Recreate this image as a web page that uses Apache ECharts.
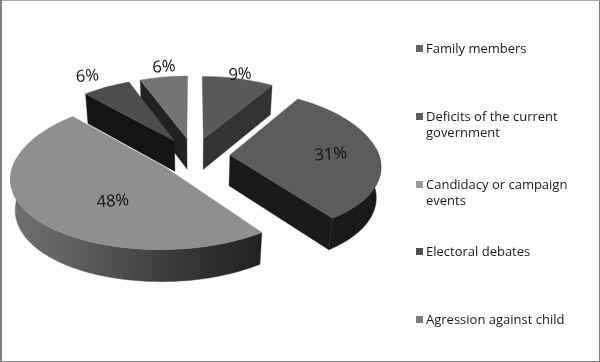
<!DOCTYPE html>
<html><head><meta charset="utf-8">
<style>html,body{margin:0;padding:0;background:#fff}#c{width:600px;height:362px}</style>
<script src="https://cdn.jsdelivr.net/npm/echarts@6/dist/echarts.min.js"></script>
</head><body><div id="c"></div>
<script>
// Data
const categories = ['Family members','Deficits of the current government','Candidacy or campaign events','Electoral debates','Agression against child'];
const legendLabels = ['Family members','Deficits of the current\ngovernment','Candidacy or campaign\nevents','Electoral debates','Agression against child'];
const values = [9,31,48,6,6];
// Styles
const topColors = ['#595959','#5c5c5c','#8f8f8f','#4d4d4d','#747474'];
const wallColors = ['#333333','#1a1a1a','#222222','#141414','#222222'];
const legendColors = ['#636363','#5c5c5c','#999999','#4f4f4f','#7c7c7c'];
const labelRadius = [1.0,0.62,0.6,1.32,1.18];
const labelNudge = [[2,-4],[9,1],[24,5],[0,5],[4,0]];
const stacking = [2,5,6,4,3];
// Projection parameters
const CX=193.5, CY=155.5, R=149, EXPL=36.5, SY=0.483, K=0.1, KX=0.135, DEPTH=31.5, KZ=0.025;
const total = values.reduce((a,b)=>a+b,0);
const spans = []; { let a=0; values.forEach(v=>{ const b=a+v/total*360; spans.push([a,b]); a=b; }); }
const rad = d=>d*Math.PI/180;
function project(X,Y,t){
  const s = 1/(1+K*Y/R+KZ*t), sx = 1/(1+KX*Y/R+KZ*t);
  return [CX+X*sx, CY-Y*SY*s+DEPTH*t*s];
}
function slicePt(i,angle,r){
  const m = rad((spans[i][0]+spans[i][1])/2), a = rad(angle);
  return [EXPL*Math.sin(m)+r*R*Math.sin(a), EXPL*Math.cos(m)+r*R*Math.cos(a)];
}
function arcPts(i,a0,a1,t){
  const n=Math.max(2,Math.ceil(Math.abs(a1-a0)/2)), pts=[];
  for(let j=0;j<=n;j++){ const p=slicePt(i,a0+(a1-a0)*j/n,1); pts.push(project(p[0],p[1],t)); }
  return pts;
}
const poly=(points,fill,z2)=>({type:'polygon',z2,shape:{points},style:{fill,stroke:fill,lineWidth:0.4}});
function renderSlice(i){
  return function(params,api){
    const [a0,a1]=spans[i], c=slicePt(i,0,0), children=[];
    const apexT=project(c[0],c[1],0), apexB=project(c[0],c[1],1);
    const f0=Math.max(a0,85), f1=Math.min(a1,277);
    if(f1>f0){
      const top=arcPts(i,f0,f1,0), bot=arcPts(i,f0,f1,1).reverse();
      const fill = i===2 ? {type:'linear',x:1,y:0,x2:0,y2:0,colorStops:[{offset:0,color:'#202020'},{offset:0.35,color:'#3a3a3a'},{offset:0.75,color:'#5f5f5f'},{offset:1,color:'#707070'}]} : wallColors[i];
      children.push(poly(top.concat(bot),fill,1));
    }
    [[a0,a0-90],[a1,a1+90]].forEach(([edge,dir])=>{
      if(Math.cos(rad(dir))<-1e-6){
        const p=slicePt(i,edge,1);
        children.push(poly([apexT,project(p[0],p[1],0),project(p[0],p[1],1),apexB],wallColors[i],2));
      }
    });
    children.push(poly([apexT].concat(arcPts(i,a0,a1,0)),topColors[i],3));
    const mid=(a0+a1)/2, lp=slicePt(i,mid,labelRadius[i]), pos=project(lp[0],lp[1],0);
    children.push({type:'text',z2:4,x:pos[0]+labelNudge[i][0],y:pos[1]+labelNudge[i][1],rotation:rad(4),
      style:{text:api.value(0)+'%',x:0,y:0,fill:'#111',font:'16.5px "Open Sans"',align:'center',verticalAlign:'middle'}});
    return {type:'group',children};
  };
}
const legendTops=[41,109,177,244,312];
const option={
  animation:false,
  backgroundColor:'#fff',
  graphic:[
    {type:'rect',shape:{x:0.5,y:0.5,width:599,height:361},style:{fill:'none',stroke:'#808080',lineWidth:1},silent:true},
    {type:'rect',shape:{x:0,y:0,width:600,height:1},style:{fill:'#ababab'},silent:true},
    {type:'rect',shape:{x:0,y:0,width:2,height:362},style:{fill:'#808080'},silent:true}
  ],
  legend:categories.map((name,i)=>{
    const two=legendLabels[i].includes('\n');
    const h=two?32:16;
    return {
      data:[name],left:416,top:legendTops[i],orient:'vertical',padding:0,
      itemWidth:7,itemHeight:h,itemGap:0,
      icon:two?'path://M0 4H7V11H0Z M0 0L0 32':'path://M0 4H7V11H0Z M0 0L0 16',
      formatter:()=>legendLabels[i],
      textStyle:{fontFamily:'"Open Sans"',fontSize:13,color:'#1a1a1a',lineHeight:16,padding:[0,0,0,-2]},
      selectedMode:false
    };
  }),
  series:categories.map((name,i)=>({
    type:'custom',name,coordinateSystem:'none',z:stacking[i],clip:false,silent:true,
    itemStyle:{color:legendColors[i]},
    renderItem:renderSlice(i),data:[[values[i]]]
  }))
};
echarts.init(document.getElementById('c'),null,{renderer:'canvas'}).setOption(option);
</script></body></html>
